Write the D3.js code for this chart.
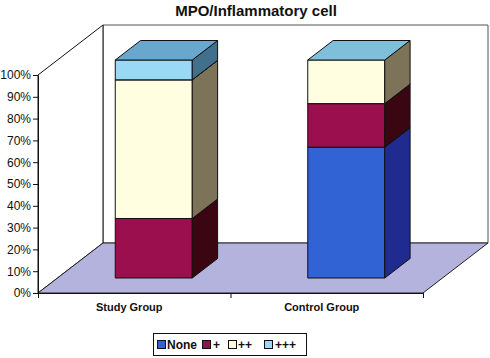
<!DOCTYPE html>
<html>
<head>
<meta charset="utf-8">
<script src="https://cdn.jsdelivr.net/npm/d3@7"></script>
<style>
  body { margin: 0; background: #fff; }
  text { font-family: Arial, "Liberation Sans", sans-serif; }
</style>
</head>
<body>
<div id="chart"></div>
<script>
// Data
const groups = ["Study Group", "Control Group"];
const seriesNames = ["None", "+", "++", "+++"];
const studyValues = [0, 27.3, 63.6, 9.1];
const controlValues = [60, 20, 20, 0];
const yTicks = [0, 10, 20, 30, 40, 50, 60, 70, 80, 90, 100];

// Colors: front, side, top
const frontColors = ["#3163d4", "#9b0f4f", "#fffee0", "#9ad9f5"];
const sideColors = ["#1f2b8e", "#3a0612", "#7d7358", "#416f8c"];
const topColors = ["#4a7ae0", "#b0306a", "#7fbfd9", "#6aa7cf"];

const W = 490, H = 358;
const svg = d3.select("#chart").append("svg")
  .attr("width", W).attr("height", H);

// front plane geometry
const x0 = 38, x1 = 423;
const y = d3.scaleLinear().domain([0, 100]).range([293, 75]);
const depth = {dx: 65, dy: -50};
const zFront = 0.3, zBack = 0.69;
const x = d3.scaleBand().domain(groups).range([x0, x1]);
const barW = x.bandwidth() * 0.4;

function pt(px, v, z) {
  return [px + depth.dx * z, y(v) + depth.dy * z];
}
const line = pts => "M" + pts.map(p => p.join(",")).join("L") + "Z";

// back wall
svg.append("path")
  .attr("d", line([pt(x0, 0, 1), pt(x0, 100, 1), [488, y(100) + depth.dy], [488, y(0) + depth.dy]]))
  .attr("fill", "#fff").attr("stroke", "#555").attr("stroke-width", 1);
// side wall
svg.append("path")
  .attr("d", line([pt(x0, 0, 0), pt(x0, 100, 0), pt(x0, 100, 1), pt(x0, 0, 1)]))
  .attr("fill", "#fff").attr("stroke", "#111").attr("stroke-width", 1);
// floor
svg.append("path")
  .attr("d", line([pt(x0, 0, 0), pt(x0, 0, 1), [488, y(0) + depth.dy], pt(x1, 0, 0)]))
  .attr("fill", "#b3b3dd").attr("stroke", "#222").attr("stroke-width", 1);

// y axis
svg.append("g")
  .attr("transform", `translate(${x0},0)`)
  .call(d3.axisLeft(y).tickValues(yTicks).tickFormat(d => d + "%").tickSize(5).tickSizeOuter(0))
  .call(g => g.select(".domain").attr("stroke", "#111"))
  .call(g => g.selectAll("line").attr("stroke", "#111"))
  .call(g => g.selectAll("text").attr("font-size", "12px").attr("fill", "#111")
    .attr("font-family", "Arial, 'Liberation Sans', sans-serif").attr("x", -7));

// x axis ticks at band edges
const xEdges = d3.scaleLinear().domain([0, groups.length]).range([x0, x1]);
svg.append("g")
  .attr("transform", `translate(0,${y(0)})`)
  .call(d3.axisBottom(xEdges).tickValues(d3.range(groups.length + 1)).tickFormat("").tickSize(5).tickSizeOuter(0))
  .call(g => g.select(".domain").attr("stroke", "#111"))
  .call(g => g.selectAll("line").attr("stroke", "#111"));

svg.selectAll(".cat")
  .data(groups)
  .enter().append("text")
    .attr("class", "cat")
    .attr("x", d => x(d) + x.bandwidth() / 2 - 5)
    .attr("y", 311)
    .attr("text-anchor", "middle")
    .attr("font-size", "11px")
    .attr("font-weight", "bold")
    .attr("fill", "#111")
    .text(d => d);

// bars
const allValues = [studyValues, controlValues];
groups.forEach((gName, gi) => {
  const vals = allValues[gi];
  const left = x(gName) + (x.bandwidth() - barW) / 2;
  const right = left + barW;
  let base = 0;
  const g = svg.append("g");
  vals.forEach((v, si) => {
    if (v <= 0) return;
    const lo = base, hi = base + v;
    base = hi;
    // front
    g.append("path")
      .attr("d", line([pt(left, lo, zFront), pt(left, hi, zFront), pt(right, hi, zFront), pt(right, lo, zFront)]))
      .attr("fill", frontColors[si]).attr("stroke", "#111").attr("stroke-width", 1);
    // side
    g.append("path")
      .attr("d", line([pt(right, lo, zFront), pt(right, hi, zFront), pt(right, hi, zBack), pt(right, lo, zBack)]))
      .attr("fill", sideColors[si]).attr("stroke", "#111").attr("stroke-width", 1);
    // top
    g.append("path")
      .attr("d", line([pt(left, hi, zFront), pt(left, hi, zBack), pt(right, hi, zBack), pt(right, hi, zFront)]))
      .attr("fill", topColors[si]).attr("stroke", "#111").attr("stroke-width", 1);
  });
});

// title
svg.append("text")
  .attr("x", 256).attr("y", 16)
  .attr("text-anchor", "middle")
  .attr("font-size", "15px")
  .attr("font-weight", "bold")
  .attr("fill", "#111")
  .text("MPO/Inflammatory cell");

// legend
const legend = svg.append("g");
legend.append("rect")
  .attr("x", 153.5).attr("y", 333.5).attr("width", 153).attr("height", 22)
  .attr("fill", "#fff").attr("stroke", "#111").attr("stroke-width", 1);
const legendX = [157, 202, 228, 264];
const items = legend.selectAll(".legend-item")
  .data(seriesNames)
  .enter().append("g")
    .attr("class", "legend-item")
    .attr("transform", (d, i) => `translate(${legendX[i]},340)`);
items.append("rect")
  .attr("x", 0.5).attr("y", 0.5).attr("width", 8).attr("height", 8)
  .attr("fill", (d, i) => frontColors[i]).attr("stroke", "#111");
items.append("text")
  .attr("x", (d, i) => i % 2 === 0 ? 10 : 11)
  .attr("y", 4.5)
  .attr("dy", "0.35em")
  .attr("font-size", "12px")
  .attr("font-weight", "bold")
  .attr("fill", "#111")
  .text(d => d);
</script>
</body>
</html>
